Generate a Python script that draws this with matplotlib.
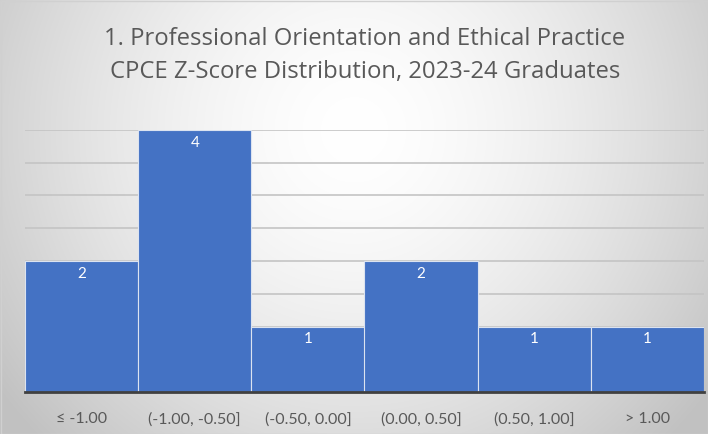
import numpy as np
import matplotlib
matplotlib.use("Agg")
import matplotlib.pyplot as plt

categories = ["≤ -1.00", "(-1.00, -0.50]", "(-0.50, 0.00]", "(0.00, 0.50]", "(0.50, 1.00]", "> 1.00"]
counts = [2, 4, 1, 2, 1, 1]
title_lines = ["1. Professional Orientation and Ethical Practice",
               "CPCE Z-Score Distribution, 2023-24 Graduates"]

plt.rcParams['font.family'] = ['Lato', 'DejaVu Sans']

W, H, DPI = 708, 434, 100
fig = plt.figure(figsize=(W / DPI, H / DPI), dpi=DPI)

# radial gradient background
bg = fig.add_axes([0, 0, 1, 1], zorder=-10)
yy, xx = np.mgrid[0:H, 0:W]
cx, cy = 0.5 * W, 0.3 * H
r = np.sqrt(((xx - cx) / (0.62 * W)) ** 2 + ((yy - cy) / (0.62 * W)) ** 2)
v = 1.0 - 0.24 * np.clip(r, 0, 1) ** 1.6
img = np.dstack([v, v, v])
bg.imshow(img, extent=[0, W, H, 0], aspect='auto', interpolation='bilinear')
bg.set_xlim(0, W)
bg.set_ylim(H, 0)
bg.axis('off')
bg.add_patch(plt.Rectangle((0.5, 0.5), W - 1, H - 1, fill=False, edgecolor='#d0d0d0', lw=1))

ax = fig.add_axes([25 / W, (H - 392) / H, (704 - 25) / W, (392 - 130) / H])
ax.patch.set_alpha(0)
x = np.arange(len(categories))
bars = ax.bar(x, counts, width=1.0, color='#4472C4', edgecolor='#dce3f0', linewidth=0.8, zorder=3)
ax.set_xlim(-0.5, len(categories) - 0.5)
ax.set_ylim(0, 4)
ax.set_yticks(np.arange(0, 4.01, 0.5))
ax.yaxis.grid(True, color='#c4c4c4', linewidth=1.2, zorder=0)
ax.set_axisbelow(True)
ax.tick_params(axis='y', left=False, labelleft=False)
ax.tick_params(axis='x', bottom=False, labelsize=11.5, labelcolor='#595959', pad=11)
ax.set_xticks(x)
ax.set_xticklabels(categories)
for s in ['left', 'right', 'top']:
    ax.spines[s].set_visible(False)
ax.spines['bottom'].set_color('#404040')
ax.spines['bottom'].set_linewidth(2)
ax.spines['bottom'].set_zorder(5)

for xi, c in zip(x, counts):
    ax.annotate(str(c), (xi, c), xytext=(0, -4), textcoords='offset points',
                ha='center', va='top', color='white', fontsize=11, zorder=6)

tfont = ['Open Sans', 'DejaVu Sans']
fig.text(365 / W, 1 - 39 / H, title_lines[0], ha='center', va='center', fontsize=17.2,
         color='#595959', family=tfont)
fig.text(365 / W, 1 - 72 / H, title_lines[1], ha='center', va='center', fontsize=17.2,
         color='#595959', family=tfont)

fig.savefig('out.png', dpi=DPI)
